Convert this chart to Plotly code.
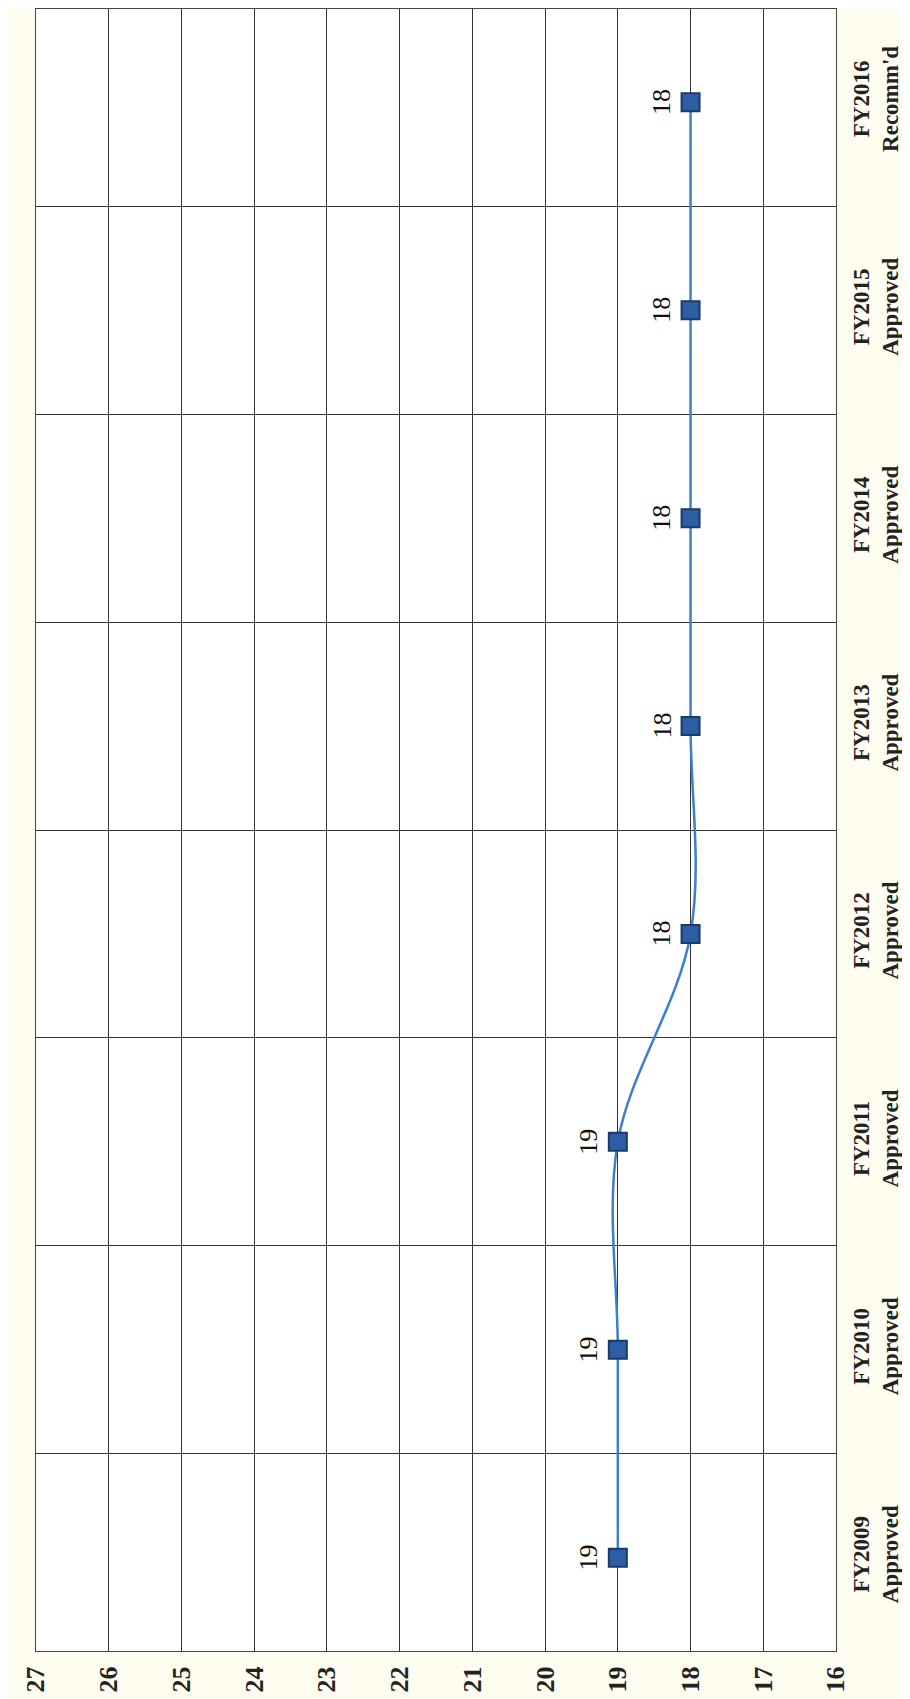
import plotly.graph_objects as go

categories = ["FY2009<br>Approved", "FY2010<br>Approved", "FY2011<br>Approved",
              "FY2012<br>Approved", "FY2013<br>Approved", "FY2014<br>Approved",
              "FY2015<br>Approved", "FY2016<br>Recomm'd"]
values = [19, 19, 19, 18, 18, 18, 18, 18]
value_ticks = list(range(16, 28))

fig = go.Figure()
fig.add_trace(go.Scatter(
    x=values, y=categories, mode="lines+markers",
    line=dict(color="#3a7fd0", width=2.5, shape="spline", smoothing=1),
    marker=dict(symbol="square", size=18, color="#2c5ea8",
                line=dict(color="#1c3a66", width=2)),
    showlegend=False, hoverinfo="skip",
))

for v, c in zip(values, categories):
    fig.add_annotation(x=v, y=c, text=str(v), showarrow=False, textangle=-90,
                       xshift=-29, font=dict(family="Liberation Serif", size=26, color="#111"))

fig.update_xaxes(
    range=[27, 16], tickvals=value_ticks, ticktext=[str(t) for t in value_ticks],
    tickangle=-90, showgrid=True, gridcolor="#333", gridwidth=1,
    showline=True, linecolor="#444", mirror=True, zeroline=False,
    tickfont=dict(family="Liberation Serif", size=26, color="#222", weight="bold"),
    ticks="", ticklabelstandoff=4,
)
fig.update_yaxes(
    type="category", categoryorder="array", categoryarray=categories,
    side="right", tickangle=-90, tickson="boundaries",
    showgrid=True, gridcolor="#333", gridwidth=1,
    showline=True, linecolor="#444", mirror=True, ticks="",
    tickfont=dict(family="Liberation Serif", size=23, color="#222", weight="bold"),
    ticklabelstandoff=4,
)
fig.update_layout(
    width=910, height=1699,
    margin=dict(l=28, r=82, t=1, b=56),
    paper_bgcolor="#fffcf0", plot_bgcolor="#ffffff",
    font=dict(family="Liberation Serif"),
)
fig.write_html("out.html")
